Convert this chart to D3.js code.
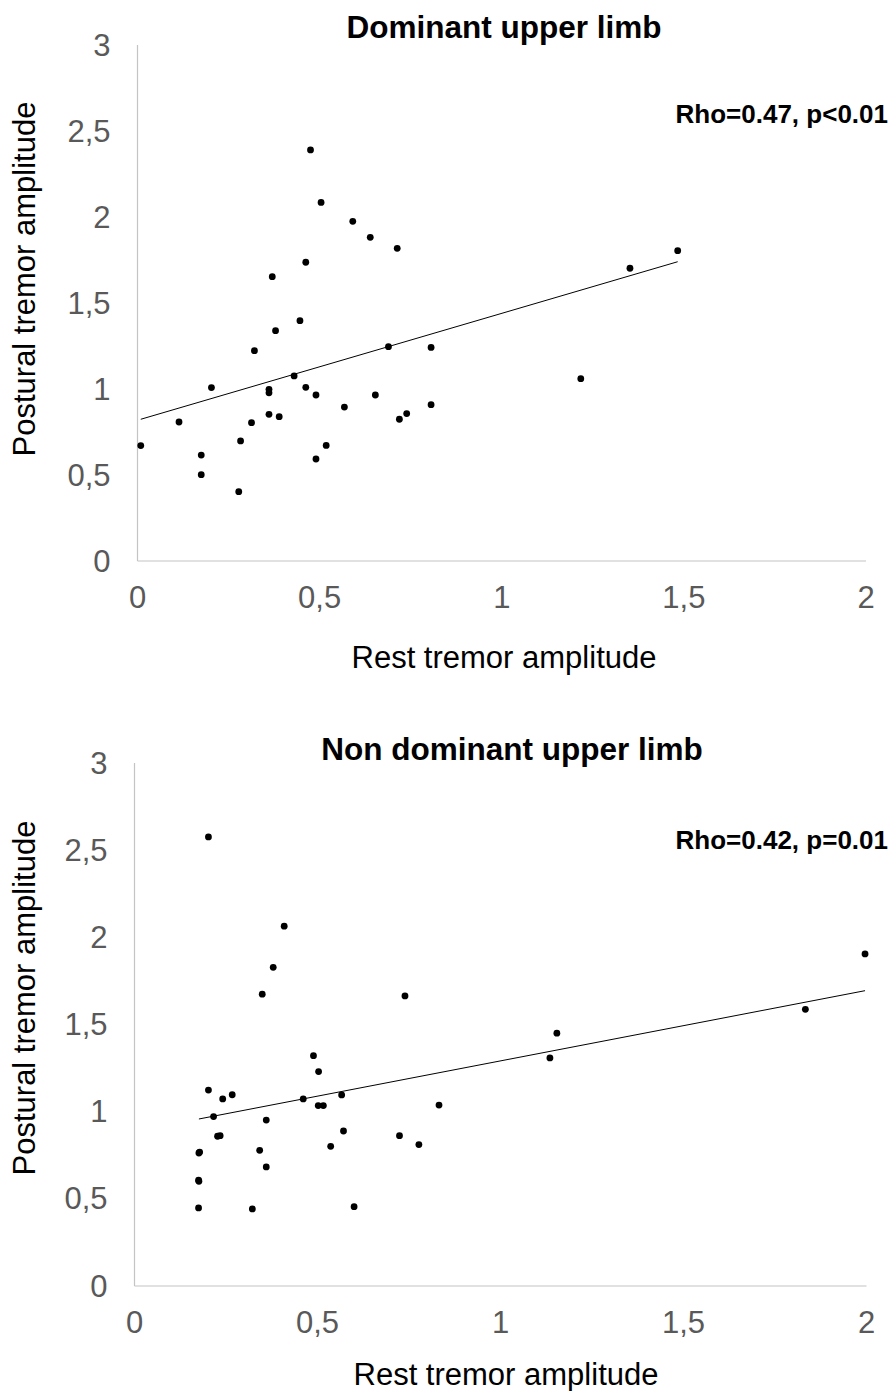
<!DOCTYPE html>
<head>
  <meta charset="utf-8">
  <script src="https://d3js.org/d3.v7.min.js"></script>
  <style>
    body { margin: 0; background: #fff; }
    text { font-family: "Liberation Sans", Arial, sans-serif; }
  </style>
</head>
<body>
  <div id="chart"></div>
  <script>
    // tick values shared by both panels
    var xTicks = [0, 0.5, 1, 1.5, 2];
    var yTicks = [0, 0.5, 1, 1.5, 2, 2.5, 3];

    // dominant upper limb: rest (x) vs postural (y)
    var domRest = [0.475, 0.504, 0.591, 0.639, 0.713, 0.462, 0.370, 1.352, 1.483, 0.446,
                   0.379, 0.321, 0.689, 0.806, 0.430, 0.203, 0.361, 0.361, 0.462, 0.490,
                   0.653, 0.568, 0.806, 0.114, 0.313, 0.361, 0.389, 0.719, 0.739, 0.009,
                   0.283, 0.518, 0.175, 0.490, 0.175, 0.278, 1.217];
    var domPost = [2.39, 2.085, 1.975, 1.882, 1.818, 1.737, 1.653, 1.702, 1.804, 1.397,
                   1.339, 1.223, 1.246, 1.242, 1.076, 1.008, 0.998, 0.978, 1.010, 0.965,
                   0.965, 0.895, 0.909, 0.808, 0.804, 0.853, 0.839, 0.824, 0.857, 0.671,
                   0.698, 0.672, 0.616, 0.593, 0.502, 0.403, 1.060];
    var domTrendX = [0.009, 1.483];
    var domTrendY = [0.824, 1.74];

    // non dominant upper limb
    var nonRest = [0.202, 0.409, 0.379, 0.349, 0.739, 1.996, 1.833, 1.154, 1.135, 0.489,
                   0.503, 0.202, 0.267, 0.241, 0.461, 0.566, 0.502, 0.516, 0.832, 0.216,
                   0.360, 0.227, 0.234, 0.571, 0.724, 0.777, 0.536, 0.342, 0.176, 0.178,
                   0.360, 0.175, 0.176, 0.175, 0.322, 0.600];
    var nonPost = [2.576, 2.064, 1.828, 1.674, 1.664, 1.905, 1.587, 1.450, 1.308, 1.321,
                   1.230, 1.124, 1.097, 1.073, 1.073, 1.096, 1.035, 1.035, 1.038, 0.972,
                   0.952, 0.859, 0.862, 0.889, 0.862, 0.811, 0.801, 0.778, 0.763, 0.768,
                   0.683, 0.607, 0.601, 0.448, 0.442, 0.455];
    var nonTrendX = [0.176, 1.996];
    var nonTrendY = [0.958, 1.694];

    var width = 891, height = 1391;

    var svg = d3.select("#chart")
      .append("svg")
      .attr("width", width)
      .attr("height", height);

    var fmt = function(d) { return String(d).replace(".", ","); };

    function panel(o) {
      var x = d3.scaleLinear().domain([0, 2]).range([o.left, o.right]);
      var y = d3.scaleLinear().domain([0, 3]).range([o.bottom, o.top]);
      var g = svg.append("g");

      // axis lines only, no ticks
      g.append("line")
        .attr("x1", x(0)).attr("x2", x(0))
        .attr("y1", y(0)).attr("y2", y(3))
        .attr("stroke", "#c4c4c4").attr("stroke-width", 1.2);
      g.append("line")
        .attr("x1", x(0)).attr("x2", x(2))
        .attr("y1", y(0)).attr("y2", y(0))
        .attr("stroke", "#c4c4c4").attr("stroke-width", 1.2);

      g.selectAll(".ytick").data(yTicks).enter().append("text")
        .attr("x", x(0) - 27)
        .attr("y", function(d) { return y(d) + 10.5; })
        .attr("text-anchor", "end")
        .attr("font-size", 31)
        .attr("fill", "#595959")
        .text(fmt);

      g.selectAll(".xtick").data(xTicks).enter().append("text")
        .attr("x", function(d) { return x(d); })
        .attr("y", y(0) + o.xTickGap)
        .attr("text-anchor", "middle")
        .attr("font-size", 31)
        .attr("fill", "#595959")
        .text(fmt);

      g.append("line")
        .attr("x1", x(o.trendX[0])).attr("y1", y(o.trendY[0]))
        .attr("x2", x(o.trendX[1])).attr("y2", y(o.trendY[1]))
        .attr("stroke", "#000").attr("stroke-width", 1);

      g.selectAll("circle").data(o.xs).enter().append("circle")
        .attr("cx", function(d) { return x(d); })
        .attr("cy", function(d, i) { return y(o.ys[i]); })
        .attr("r", 3.4)
        .attr("fill", "#000");

      g.append("text")
        .attr("x", o.titleX).attr("y", o.titleY)
        .attr("text-anchor", "middle")
        .attr("font-size", 31.5).attr("font-weight", "bold")
        .text(o.title);

      g.append("text")
        .attr("x", 888).attr("y", o.statY)
        .attr("text-anchor", "end")
        .attr("font-size", 26).attr("font-weight", "bold")
        .text(o.stat);

      g.append("text")
        .attr("x", o.xLabX).attr("y", o.xLabY)
        .attr("text-anchor", "middle")
        .attr("font-size", 31)
        .text("Rest tremor amplitude");

      g.append("text")
        .attr("transform", "translate(35," + o.yLabCenter + ") rotate(-90)")
        .attr("text-anchor", "middle")
        .attr("font-size", 31)
        .text("Postural tremor amplitude");
    }

    panel({
      left: 137.5, right: 866, top: 45, bottom: 561, xTickGap: 47,
      xs: domRest, ys: domPost, trendX: domTrendX, trendY: domTrendY,
      title: "Dominant upper limb", titleX: 504, titleY: 38,
      stat: "Rho=0.47, p<0.01", statY: 123,
      xLabX: 504, xLabY: 668, yLabCenter: 279
    });

    panel({
      left: 134.5, right: 866.5, top: 763, bottom: 1286, xTickGap: 47,
      xs: nonRest, ys: nonPost, trendX: nonTrendX, trendY: nonTrendY,
      title: "Non dominant upper limb", titleX: 512, titleY: 760,
      stat: "Rho=0.42, p=0.01", statY: 849,
      xLabX: 506, xLabY: 1385, yLabCenter: 998
    });
  </script>
</body>
